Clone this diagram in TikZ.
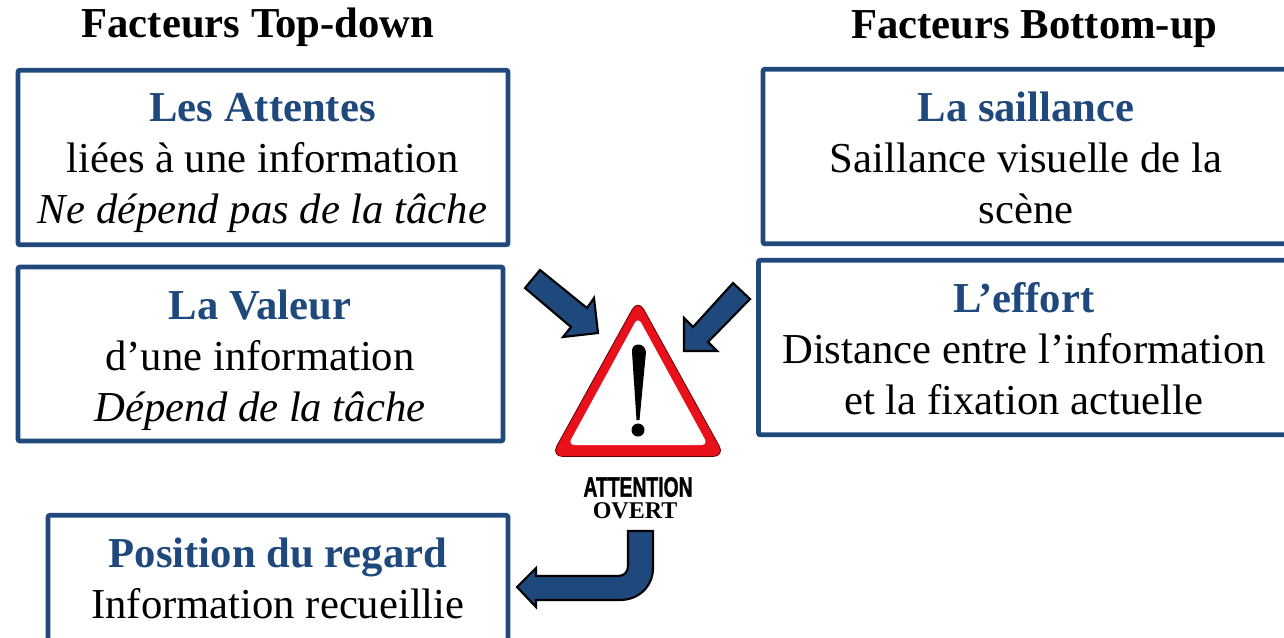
\documentclass[tikz,border=0pt]{standalone}
\usepackage{fontspec}
\setmainfont{Liberation Serif}
\definecolor{navy}{HTML}{1F497D}
\definecolor{signred}{HTML}{E8101A}
\newcommand{\bodytext}{\fontsize{32}{38.25}\selectfont}
\tikzset{
 x=0.75pt,y=-0.75pt,
 infobox/.style={draw=navy,line width=3.6pt,rounded corners=1.5pt,fill=white,inner sep=0pt},
 boxtext/.style={font=\bodytext,align=center,inner sep=0pt},
 blockarrow/.style={draw=black,fill=navy,line width=1.6pt,line join=miter},
 headline/.style={font=\fontsize{32}{38}\selectfont\bfseries,inner sep=0pt},
}
\newcommand{\hd}[1]{{\color{navy}\bfseries #1}}
\begin{document}
\begin{tikzpicture}
\clip (0,0) rectangle (1284,637);
\fill[white] (0,0) rectangle (1284,637);
\node[headline] (t1) at (258,27) {Facteurs Top-down};
\node[headline] (t2) at (1034.5,29) {Facteurs Bottom-up};
\node[infobox,minimum width=367.5pt,minimum height=131pt] (b1) at (263,157.5) {};
\node[boxtext] (b1t) at (262.5,163) {\hd{Les Attentes}\\liées à une information\\\textit{Ne dépend pas de la tâche}};
\node[infobox,minimum width=363.75pt,minimum height=130.5pt] (b2) at (260.5,354) {};
\node[boxtext] (b2t) at (260,360) {\hd{La Valeur}\\d’une information\\\textit{Dépend de la tâche}};
\node[infobox,minimum width=345pt,minimum height=130pt] (b3) at (278,602) {};
\node[boxtext] (b3t) at (278,578) {\hd{Position du regard}\\Information recueillie};
\node[infobox,minimum width=450pt,minimum height=131pt] (b4) at (1063,156.5) {};
\node[boxtext] (b4t) at (1026,158) {\hd{La saillance}\\Saillance visuelle de la\\scène};
\node[infobox,minimum width=450pt,minimum height=131pt] (b5) at (1058.5,347.5) {};
\node[boxtext] (b5t) at (1024,349) {\hd{L’effort}\\Distance entre l’information\\et la fixation actuelle};
% block arrows
\draw[blockarrow] (540,270) -- (587,308) -- (594,298) -- (598,333) -- (563,337) -- (571,327) -- (525,288) -- cycle;
\draw[blockarrow] (733,283) -- (750,299) -- (708,342) -- (717,351) -- (684,351) -- (684,318) -- (693,327) -- cycle;
\draw[blockarrow] (628,531) -- (653,531) -- (653,568) .. controls (653,587) and (638,600) .. (620,600) -- (536,600) -- (536,607) -- (517,587) -- (536,568) -- (536,576) -- (618,576) .. controls (624,576) and (628,572) .. (628,566) -- cycle;
% warning sign
\fill[signred,draw=black!60!red,line width=.6pt,rounded corners=9pt] (638,299) -- (725,456.5) -- (551,456.5) -- cycle;
\fill[white,rounded corners=5pt] (638,317) -- (708,445) -- (568,445) -- cycle;
\fill[black] (632,352) .. controls (631,342) and (645,342) .. (646,352) -- (639.5,420) -- (636.5,420) -- cycle;
\fill[black] (638,430) circle[radius=6.5];
\node[inner sep=0pt,xscale=.69] (att) at (638,487) {\fontspec[FakeBold=1.5]{Liberation Sans}\bfseries\fontsize{21}{21}\selectfont ATTENTION};
\node[inner sep=0pt,font=\bfseries\fontsize{18}{18}\selectfont] (ov) at (635,511) {OVERT};
\end{tikzpicture}
\end{document}
